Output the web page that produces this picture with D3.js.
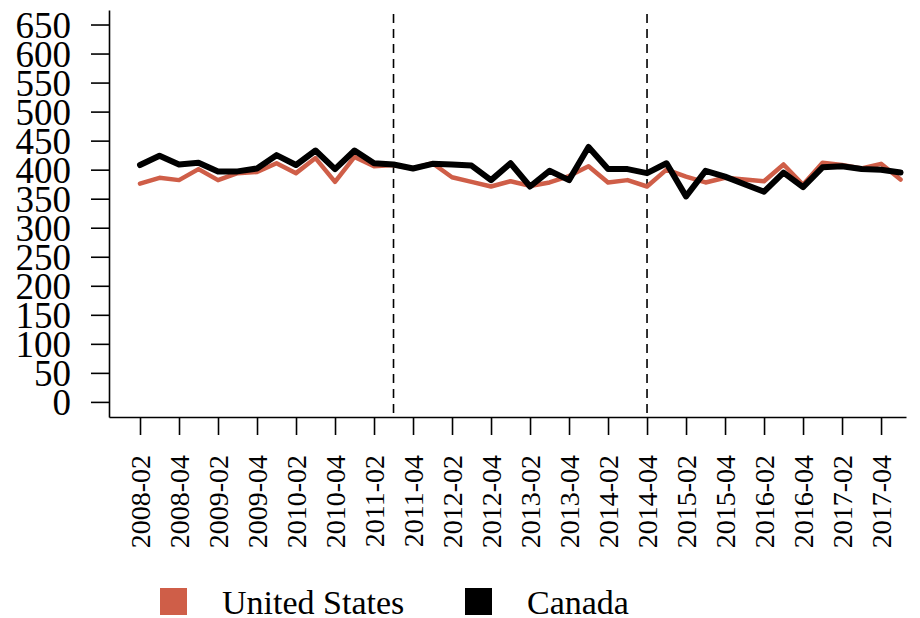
<!DOCTYPE html>
<html>
<head>
<meta charset="utf-8">
<script src="https://cdn.jsdelivr.net/npm/d3@7"></script>
<style>
  body { margin: 0; background: #fff; }
  text { fill: #000; }
</style>
</head>
<body>
<div id="chart"></div>
<script>
// quarters shown on the x axis
var quarters = [
  "2008-02", "2008-03", "2008-04",
  "2009-01", "2009-02", "2009-03", "2009-04",
  "2010-01", "2010-02", "2010-03", "2010-04",
  "2011-01", "2011-02", "2011-03", "2011-04",
  "2012-01", "2012-02", "2012-03", "2012-04",
  "2013-01", "2013-02", "2013-03", "2013-04",
  "2014-01", "2014-02", "2014-03", "2014-04",
  "2015-01", "2015-02", "2015-03", "2015-04",
  "2016-01", "2016-02", "2016-03", "2016-04",
  "2017-01", "2017-02", "2017-03", "2017-04",
  "2018-01"
];

var usValues = [376, 386, 382, 401, 382, 394, 396, 411, 394, 420,
                379, 422, 406, 408, 402, 411, 387, 379, 371, 380,
                372, 378, 389, 406, 378, 382, 371, 400, 388, 378,
                386, 383, 380, 409, 374, 412, 408, 402, 410, 383];

var canadaValues = [408, 424, 409, 412, 397, 397, 402, 425, 408, 433,
                    401, 433, 411, 409, 402, 410, 409, 407, 382, 411,
                    371, 398, 382, 439, 401, 401, 394, 411, 354, 398,
                    388, 375, 362, 395, 370, 404, 406, 401, 400, 395];

// quarters marked with a dashed line
var markers = ["2011-03", "2014-04"];

var yTicks = d3.range(0, 651, 50);

var seriesNames = ["United States", "Canada"];
var seriesColors = ["#cf5e48", "#000000"];

var svgWidth = 920;
var svgHeight = 618;
var serif = "Liberation Serif, Tinos, Times New Roman, Nimbus Roman, DejaVu Serif, serif";

var svg = d3.select("#chart")
  .append("svg")
  .attr("width", svgWidth)
  .attr("height", svgHeight);

// plot region
var plotLeft = 109, plotRight = 906, plotTop = 10, plotBottom = 417;

var x = d3.scaleLinear()
  .domain([-1.59, 39.28])
  .range([plotLeft, plotRight]);

var y = d3.scaleLinear()
  .domain([-26, 675])
  .range([plotBottom, plotTop]);

// x axis
var xAxis = d3.axisBottom(x)
  .tickValues(d3.range(0, quarters.length, 2))
  .tickFormat(i => quarters[i])
  .tickSize(18)
  .tickSizeOuter(0);

var xg = svg.append("g")
  .attr("transform", `translate(0, ${plotBottom})`)
  .call(xAxis)
  .attr("font-family", serif)
  .attr("font-size", 28);

xg.select(".domain").attr("stroke", "#000").attr("stroke-width", 1.6);
xg.selectAll(".tick line").attr("stroke", "#000").attr("stroke-width", 1.6);
xg.selectAll(".tick text")
  .attr("text-anchor", "end")
  .attr("transform", "rotate(-90)")
  .attr("x", -38)
  .attr("y", 0)
  .attr("dy", "0.35em");

// y axis
var yAxis = d3.axisLeft(y)
  .tickValues(yTicks)
  .tickSize(18)
  .tickSizeOuter(0);

var yg = svg.append("g")
  .attr("transform", `translate(${plotLeft}, 0)`)
  .call(yAxis)
  .attr("font-family", serif)
  .attr("font-size", 37);

yg.select(".domain").attr("stroke", "#000").attr("stroke-width", 1.6);
yg.selectAll(".tick line").attr("stroke", "#000").attr("stroke-width", 1.6);
yg.selectAll(".tick text")
  .attr("x", -38)
  .attr("dy", "0.34em");

// dashed markers
svg.selectAll(".marker")
  .data(markers)
  .enter()
  .append("line")
  .attr("class", "marker")
  .attr("x1", d => x(quarters.indexOf(d)))
  .attr("x2", d => x(quarters.indexOf(d)))
  .attr("y1", y(668))
  .attr("y2", plotBottom)
  .attr("stroke", "#000")
  .attr("stroke-width", 1.6)
  .attr("stroke-dasharray", "9,6");

// lines
var line = d3.line()
  .x((d, i) => x(i))
  .y(d => y(d));

svg.append("path")
  .datum(usValues)
  .attr("fill", "none")
  .attr("stroke", seriesColors[0])
  .attr("stroke-width", 4.5)
  .attr("stroke-linejoin", "round")
  .attr("stroke-linecap", "round")
  .attr("d", line);

svg.append("path")
  .datum(canadaValues)
  .attr("fill", "none")
  .attr("stroke", seriesColors[1])
  .attr("stroke-width", 6)
  .attr("stroke-linejoin", "round")
  .attr("stroke-linecap", "round")
  .attr("d", line);

// legend
var legendX = [160, 465];
var legend = svg.selectAll(".legend")
  .data(seriesNames)
  .enter()
  .append("g")
  .attr("class", "legend")
  .attr("transform", (d, i) => `translate(${legendX[i]}, 588)`)
  .attr("font-family", serif)
  .attr("font-size", 34);

legend.append("rect")
  .attr("width", 27)
  .attr("height", 27)
  .attr("fill", (d, i) => seriesColors[i]);

legend.append("text")
  .attr("x", 62)
  .attr("y", 26)
  .text(d => d);
</script>
</body>
</html>
